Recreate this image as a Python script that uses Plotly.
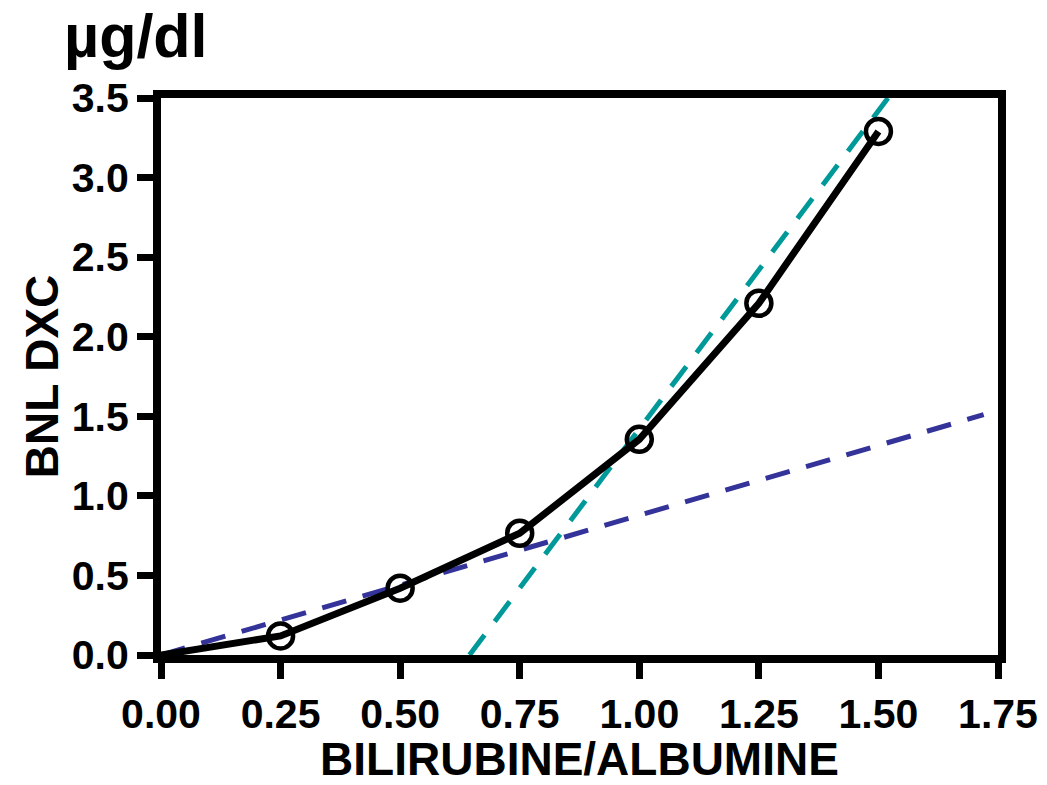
import plotly.graph_objects as go

# Data
ratio = [0.0, 0.25, 0.50, 0.75, 1.00, 1.25, 1.50]
bnl = [0.0, 0.12, 0.42, 0.765, 1.355, 2.21, 3.29]

low_fit_x = [0.0, 1.72]
low_fit_y = [0.0, 1.51]

high_fit_x = [0.645, 1.52]
high_fit_y = [0.0, 3.5]

x_ticks = [0.0, 0.25, 0.50, 0.75, 1.00, 1.25, 1.50, 1.75]
x_tick_labels = ["0.00", "0.25", "0.50", "0.75", "1.00", "1.25", "1.50", "1.75"]
y_ticks = [0.0, 0.5, 1.0, 1.5, 2.0, 2.5, 3.0, 3.5]
y_tick_labels = ["0.0", "0.5", "1.0", "1.5", "2.0", "2.5", "3.0", "3.5"]

FONT = "Liberation Sans, Arial, sans-serif"

W, H = 1047, 785
ML, MR, MT, MB = 161, 49, 98, 130

fig = go.Figure()

fig.add_trace(go.Scatter(
    x=low_fit_x, y=low_fit_y, mode="lines",
    line=dict(color="#333399", width=5, dash="25px,17px"),
    showlegend=False, hoverinfo="skip"))

fig.add_trace(go.Scatter(
    x=high_fit_x, y=high_fit_y, mode="lines",
    line=dict(color="#009999", width=5, dash="25px,17px"),
    showlegend=False, hoverinfo="skip"))

fig.add_trace(go.Scatter(
    x=ratio, y=bnl, mode="lines",
    line=dict(color="black", width=7),
    showlegend=False))

fig.add_trace(go.Scatter(
    x=ratio[1:], y=bnl[1:], mode="markers",
    marker=dict(symbol="circle-open", size=25, color="black",
                line=dict(color="black", width=4.5)),
    showlegend=False, cliponaxis=False))

axis_common = dict(
    showline=True, linewidth=8, linecolor="black", mirror=True,
    ticks="outside", tickwidth=7, ticklen=16, tickcolor="black",
    showgrid=False, zeroline=False,
    tickfont=dict(family=FONT, size=41, color="black", weight="bold"),
)

fig.update_xaxes(
    range=[0, 1.75], tickvals=x_ticks, ticktext=x_tick_labels,
    title=dict(text="BILIRUBINE/ALBUMINE", standoff=20,
               font=dict(family=FONT, size=46, color="black", weight="bold")),
    **axis_common)

fig.update_yaxes(
    range=[0, 3.5], tickvals=y_ticks, ticktext=y_tick_labels,
    title=dict(text="BNL DXC", standoff=2,
               font=dict(family=FONT, size=46, color="black", weight="bold")),
    **axis_common)

# paper coordinates are relative to the plot area
pw, ph = W - ML - MR, H - MT - MB
fig.add_annotation(
    text="µg/dl", xref="paper", yref="paper",
    x=(136 - ML) / pw, y=(H - MB - 1) / ph, xanchor="center", yanchor="top",
    showarrow=False, borderpad=0,
    font=dict(family=FONT, size=61, color="black", weight="bold"))

fig.update_layout(
    width=W, height=H,
    margin=dict(l=ML, r=MR, t=MT, b=MB, autoexpand=False),
    paper_bgcolor="white", plot_bgcolor="white",
)

fig.write_html("out.html")
